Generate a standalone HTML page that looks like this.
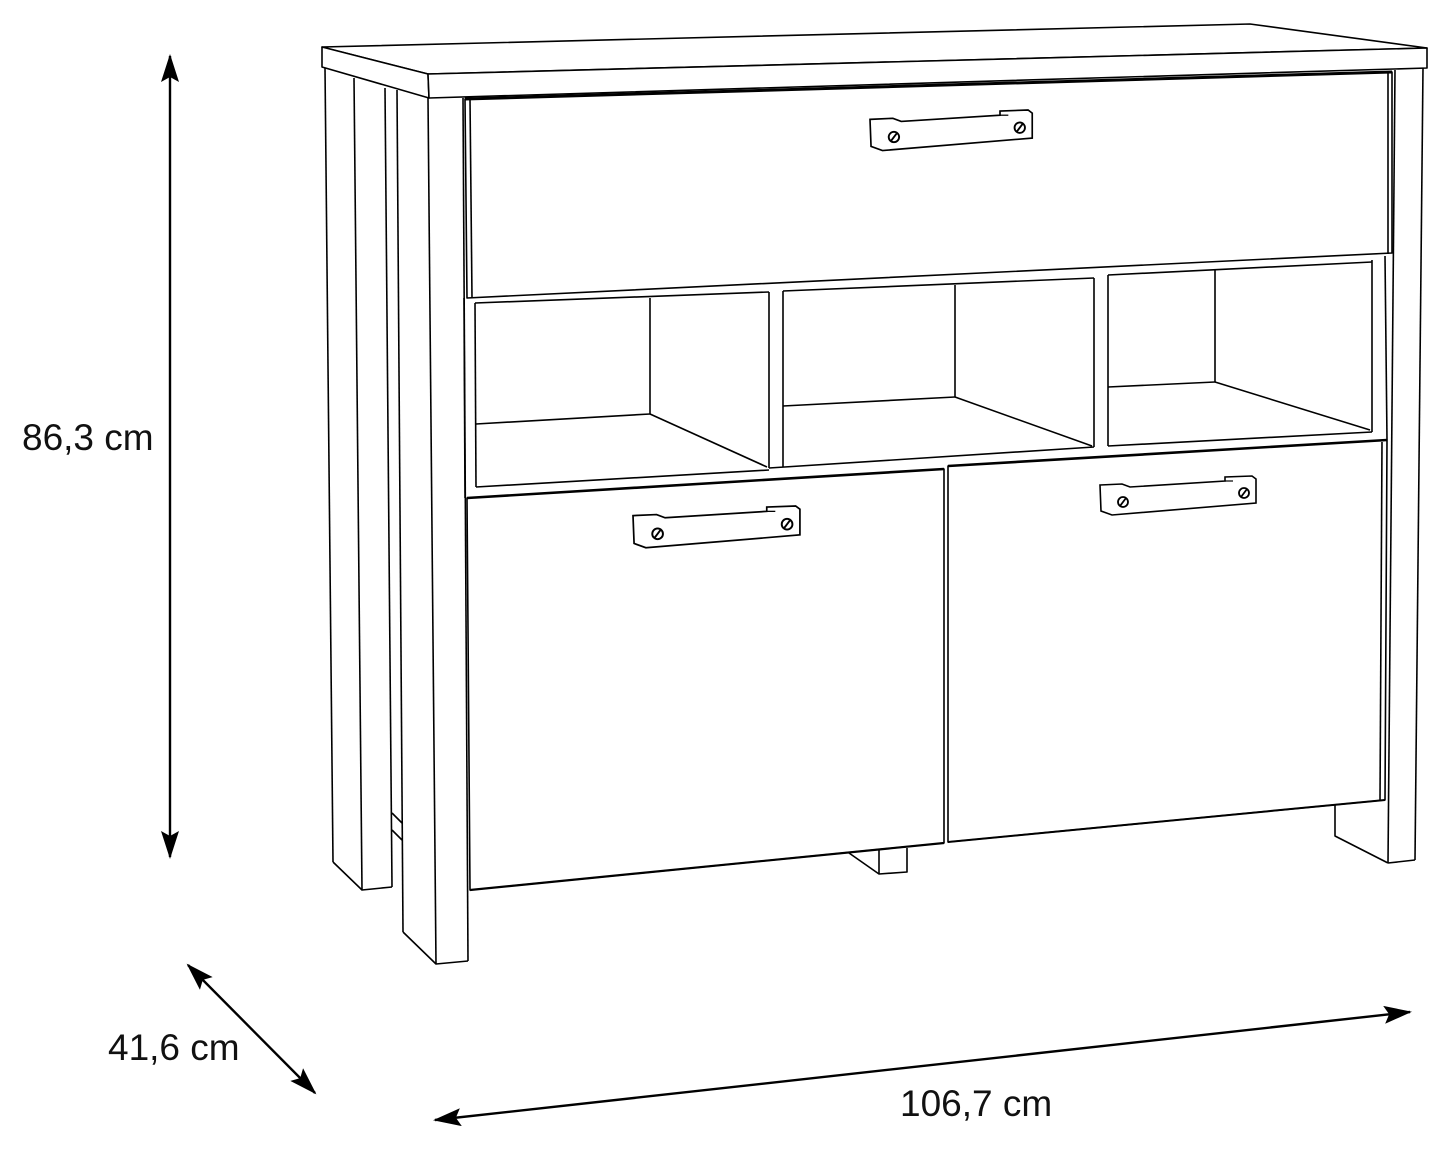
<!DOCTYPE html>
<html><head><meta charset="utf-8"><style>
html,body{margin:0;padding:0;background:#fff;}
svg{display:block;}
text{font-family:"Liberation Sans",Arial,sans-serif;font-size:37px;fill:#111;}
</style></head><body>
<svg width="1451" height="1151" viewBox="0 0 1451 1151" xmlns="http://www.w3.org/2000/svg">
<defs>
<marker id="ah" markerWidth="28" markerHeight="18" refX="26" refY="9" orient="auto-start-reverse" markerUnits="userSpaceOnUse" viewBox="0 0 28 18">
<path d="M0,0 L28,9 L0,18 L5,9 Z" fill="#000"/>
</marker>
<g id="handle">
<polygon points="0,9 22,8 30,11 125,5 125,1 152,0 156,3 156,27 12,39 1,35" fill="#fff" stroke="#000" stroke-width="1.6"/>
<line x1="125" y1="5" x2="133" y2="5" stroke="#000" stroke-width="1.2"/>
<circle cx="23" cy="26" r="5" fill="#fff" stroke="#000" stroke-width="1.8"/>
<line x1="20" y1="30" x2="26" y2="22" stroke="#000" stroke-width="1.8"/>
<circle cx="144" cy="17" r="5" fill="#fff" stroke="#000" stroke-width="1.8"/>
<line x1="141" y1="21" x2="147" y2="13" stroke="#000" stroke-width="1.8"/>
</g>
</defs>
<g fill="none" stroke="#000" stroke-width="1.6" stroke-linejoin="round">
<polygon points="322,47 1250,24 1427,48 428,74" fill="#fff"/>
<polygon points="322,47 428,74 429,98 322,67" fill="#fff"/>
<polygon points="428,74 1427,48 1427,68 429,98" fill="#fff"/>
<line x1="325" y1="68" x2="333" y2="862"/>
<line x1="354" y1="78" x2="362" y2="890"/>
<line x1="385" y1="88" x2="392" y2="887"/>
<line x1="397" y1="90" x2="403" y2="932"/>
<line x1="428" y1="98" x2="436" y2="964"/>
<line x1="463" y1="98" x2="468" y2="961"/>
<polyline points="333,862 362,890 392,887"/>
<polyline points="403,932 436,964 468,961"/>
<line x1="392" y1="813" x2="402" y2="823"/>
<line x1="392" y1="830" x2="402" y2="840"/>
<line x1="1395" y1="70" x2="1388" y2="863"/>
<line x1="1423" y1="68" x2="1415" y2="860"/>
<line x1="1388" y1="863" x2="1415" y2="860"/>
<polyline points="1335,805 1335,836 1388,863"/>
<polygon points="465,99 1392,72 1392,253 467,298" fill="#fff"/>
<line x1="470" y1="99" x2="472" y2="298"/>
<line x1="465" y1="99" x2="1392" y2="72" stroke-width="3"/>
<line x1="1388" y1="73" x2="1388" y2="254"/>
<line x1="464" y1="298" x2="465" y2="498"/>
<line x1="475" y1="303" x2="476" y2="487"/>
<line x1="1385" y1="256" x2="1387" y2="440"/>
<line x1="1372" y1="260" x2="1372" y2="432"/>
<line x1="475" y1="303" x2="769" y2="292"/>
<line x1="783" y1="291" x2="1094" y2="278"/>
<line x1="1108" y1="275" x2="1372" y2="262"/>
<line x1="769" y1="292" x2="769" y2="468"/>
<line x1="783" y1="291" x2="783" y2="467"/>
<line x1="1094" y1="278" x2="1094" y2="447"/>
<line x1="1108" y1="275" x2="1108" y2="446"/>
<line x1="650" y1="298" x2="650" y2="414"/>
<line x1="476" y1="424" x2="650" y2="414"/>
<line x1="650" y1="414" x2="767" y2="467"/>
<line x1="955" y1="285" x2="955" y2="397"/>
<line x1="783" y1="406" x2="955" y2="397"/>
<line x1="955" y1="397" x2="1092" y2="446"/>
<line x1="1215" y1="270" x2="1215" y2="382"/>
<line x1="1108" y1="387" x2="1215" y2="382"/>
<line x1="1215" y1="382" x2="1370" y2="430"/>
<line x1="476" y1="487" x2="769" y2="470"/>
<line x1="769" y1="468" x2="1094" y2="447"/>
<line x1="1108" y1="446" x2="1372" y2="432"/>
<polygon points="467,498 944,469 944,843 470,890" fill="#fff"/>
<polygon points="948,466 1387,440 1385,800 948,842" fill="#fff"/>
<line x1="467" y1="498" x2="944" y2="469" stroke-width="2.6"/>
<line x1="948" y1="466" x2="1387" y2="440" stroke-width="2.6"/>
<line x1="470" y1="890" x2="944" y2="843" stroke-width="2.2"/>
<line x1="948" y1="842" x2="1385" y2="800" stroke-width="2"/>
<line x1="1382" y1="442" x2="1380" y2="801"/>
<polyline points="849,853 879,874 907,872 907,848"/>
<line x1="879" y1="849" x2="879" y2="874"/>
</g>
<use href="#handle" transform="translate(870,110) scale(1.04)"/>
<use href="#handle" transform="translate(633,506) scale(1.07)"/>
<use href="#handle" transform="translate(1100,476)"/>
<g stroke="#000" stroke-width="2.4" fill="none">
<line x1="170" y1="56" x2="170" y2="857" marker-start="url(#ah)" marker-end="url(#ah)"/>
<line x1="188" y1="965" x2="315" y2="1093" marker-start="url(#ah)" marker-end="url(#ah)"/>
<line x1="435" y1="1120" x2="1410" y2="1012" marker-start="url(#ah)" marker-end="url(#ah)"/>
</g>
<text x="22" y="450">86,3 cm</text>
<text x="108" y="1060">41,6 cm</text>
<text x="900" y="1116">106,7 cm</text>
</svg>
</body></html>
